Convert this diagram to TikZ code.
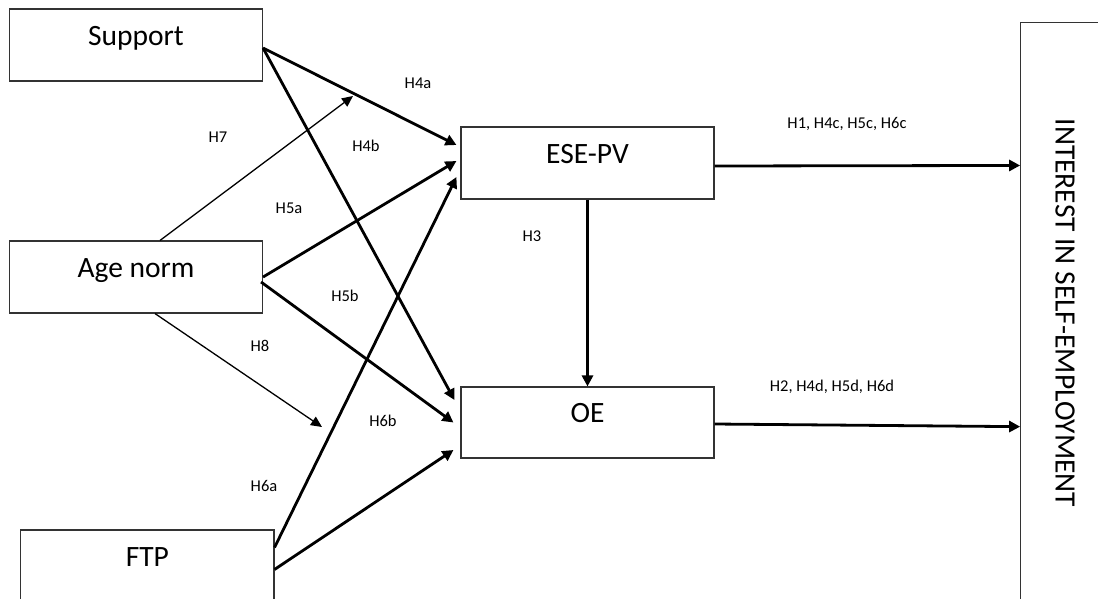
\documentclass[tikz,border=0pt]{standalone}
\usepackage{fontspec}
\setmainfont{Carlito}
\usetikzlibrary{arrows.meta}
\begin{document}
\begin{tikzpicture}[x=1pt,y=-1pt,
  box/.style={draw=black!80, line width=1.1pt, minimum width=253pt, minimum height=72pt, inner sep=0pt},
  big/.style={font=\fontsize{29.5}{34}\selectfont, inner sep=0pt},
  hyp/.style={font=\fontsize{16.5}{19}\selectfont, inner sep=0pt},
  strong/.style={line width=2.8pt, -{Triangle[length=11pt,width=11pt]}},
  weak/.style={line width=1.3pt, -{Triangle[length=11pt,width=10pt]}}]
\useasboundingbox (0,0) rectangle (1098,598);
\begin{scope}
\clip (0,0) rectangle (1098,598);
\fill[white] (0,0) rectangle (1098,598);
% boxes
\node[box] (sup) at (136,45) {};
\node[box] (age) at (136,277) {};
\node[box, minimum width=253.3pt, minimum height=110pt] (ftp) at (147.35,585) {};
\node[box] (ese) at (587.5,163) {};
\node[box, minimum height=71pt] (oe) at (587.5,422.5) {};
\node[box, minimum width=140pt, minimum height=620pt] (int) at (1090.7,332.7) {};
% box texts
\node[big, anchor=base] (tsup) at (sup.center) {Support};
\node[big, anchor=base] (tage) at (age.center) {Age norm};
\node[big, anchor=base] (tftp) at ([yshift=-37pt]ftp.north) {FTP};
\node[big, anchor=base] (tese) at (ese.center) {ESE-PV};
\node[big, anchor=base] (toe) at (oe.center) {OE};
\node[big, rotate=-90] (tint) at (1065,313) {INTEREST IN SELF-EMPLOYMENT};
% free ends
\coordinate (h7end) at (353,96);
\coordinate (h8end) at (322,427);
% connectors
\draw[strong] ([yshift=-3pt]sup.east) -- ([xshift=-4pt,yshift=18pt]ese.west);
\draw[strong] ([yshift=-3pt]sup.east) -- ([xshift=-6pt,yshift=22.5pt]oe.west);
\draw[strong] (age.east) -- ([xshift=-4pt,yshift=2pt]ese.west);
\draw[strong] ([xshift=-2pt,yshift=-5pt]age.east) -- ([xshift=-7pt]oe.west);
\draw[strong] ([yshift=-18pt]ftp.north east) -- ([xshift=-4pt,yshift=-14pt]ese.west);
\draw[strong] ([yshift=-40pt]ftp.north east) -- ([xshift=-7pt,yshift=-27.5pt]oe.west);
\draw[weak] ([xshift=24pt]age.north) -- (h7end);
\draw[weak] ([xshift=19pt]age.south) -- (h8end);
\draw[strong] (ese.south) -- (oe.north);
\draw[strong] ([yshift=-3pt]ese.east) -- ([yshift=-143.3pt]int.north west);
\draw[strong] ([yshift=-1.5pt]oe.east) -- ([yshift=-404.5pt]int.north west);
% hypothesis labels
\node[hyp] (l4a) at (418,83) {H4a};
\node[hyp] (l7) at (218,137) {H7};
\node[hyp] (l4b) at (366,146) {H4b};
\node[hyp] (l5a) at (289,208) {H5a};
\node[hyp] (l3) at (532,236) {H3};
\node[hyp] (l5b) at (345,296) {H5b};
\node[hyp] (l8) at (260,346) {H8};
\node[hyp] (l6b) at (383,421) {H6b};
\node[hyp] (l6a) at (264,486) {H6a};
\node[hyp] (l1) at (847,124) {H1, H4c, H5c, H6c};
\node[hyp] (l2) at (832,387) {H2, H4d, H5d, H6d};
\end{scope}
\end{tikzpicture}
\end{document}
